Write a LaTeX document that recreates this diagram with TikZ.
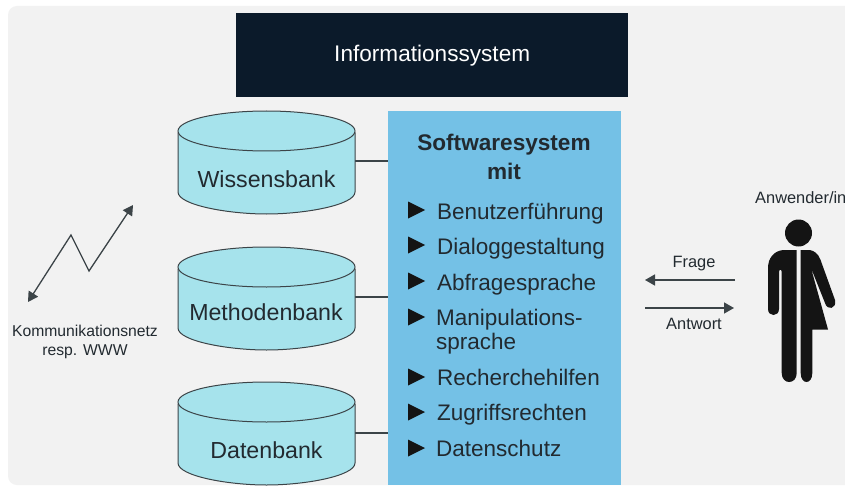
\documentclass[tikz,border=0pt]{standalone}
\usepackage{fontspec}
\setmainfont{Liberation Sans}
\usetikzlibrary{arrows.meta}
\definecolor{bgc}{HTML}{F2F2F2}
\definecolor{navy}{HTML}{0B1A2A}
\definecolor{cyl}{HTML}{A6E3EC}
\definecolor{soft}{HTML}{74C1E6}
\definecolor{ink}{HTML}{222A30}
\definecolor{wire}{HTML}{3C4448}
\definecolor{blk}{HTML}{141414}
\tikzset{
 cylbody/.style={draw=wire,line width=1pt,fill=cyl},
 cyltxt/.style={font=\fontsize{23.2}{26}\selectfont,text=ink,inner sep=0pt},
 link/.style={draw=wire,line width=1.2pt},
 lbl/.style={font=\fontsize{15.7}{19.5}\selectfont,text=ink,inner sep=0pt,align=center},
 lblb/.style={font=\fontsize{16.4}{19.5}\selectfont,text=ink,inner sep=0pt,align=center},
 item/.style={font=\fontsize{22.5}{26}\selectfont,text=ink,inner sep=0pt,anchor=base west,align=left},
 tri/.style={fill=blk,draw=none},
 flow/.style={draw=wire,line width=1.4pt,-{Triangle[length=10pt,width=11pt]}},
 flowb/.style={draw=wire,line width=1.3pt,{Triangle[length=10pt,width=11pt]}-{Triangle[length=10pt,width=11pt]}},
}
\newcommand{\cylinder}[1]{%
 \path[cylbody] (178,#1+22) -- (178,#1+81) .. controls (178,#1+94) and (228,#1+103) .. (266.5,#1+103) .. controls (305,#1+103) and (355,#1+94) .. (355,#1+81) -- (355,#1+22) -- cycle;
 \path[cylbody] (266.5,#1+20) ellipse[x radius=88.5,y radius=20];
}
\newcommand{\bul}[1]{\path[tri] (408,#1-8.5) -- (425,#1) -- (408,#1+8.5) -- cycle;}
\begin{document}
\begin{tikzpicture}[x=1pt,y=-1pt]
\useasboundingbox (0,0) rectangle (845,489);
\clip (0,0) rectangle (845,489);
\fill[white] (0,0) rectangle (845,489);
\fill[bgc,rounded corners=9pt] (8,6) rectangle (870,485);
\node[fill=navy,minimum width=392pt,minimum height=84pt,inner sep=0pt,font=\fontsize{22.6}{26}\selectfont,text=white,anchor=north west] (info) at (236,13) {\raisebox{1pt}{Informationssystem}};
\node[fill=soft,minimum width=233pt,minimum height=374pt,inner sep=0pt,anchor=north west] (soft) at (388,111) {};
\coordinate (w) at (355,161);
\coordinate (m) at (355,297);
\coordinate (d) at (355,433);
\draw[link] (w) -- (w-|soft.west);
\draw[link] (m) -- (m-|soft.west);
\draw[link] (d) -- (d-|soft.west);
\cylinder{111}
\cylinder{247}
\cylinder{382}
\node[cyltxt] (wb) at (266.5,179) {Wissensbank};
\node[cyltxt] (mb) at (266,312) {Methodenbank};
\node[cyltxt] (db) at (266.5,450) {Datenbank};
\node[font=\bfseries\fontsize{22.6}{29}\selectfont,text=ink,align=center,inner sep=0pt] (title) at (504,157) {Softwaresystem\\mit};
\bul{210}\bul{245}\bul{281}\bul{317}\bul{377}\bul{412}\bul{448}
\node[item] (i1) at (437,219) {Benutzerführung};
\node[item] (i2) at (437,254) {Dialoggestaltung};
\node[item] (i3) at (437,290) {Abfragesprache};
\node[item] (i4) at (436,325) {Manipulations-};
\node[item] (i4b) at (436,349) {sprache};
\node[item] (i5) at (437,385) {Recherchehilfen};
\node[item] (i6) at (437,420) {Zugriffsrechten};
\node[item] (i7) at (436,456) {Datenschutz};
% network
\coordinate (n1) at (28,302);
\coordinate (n2) at (71,235);
\coordinate (n3) at (89,271);
\coordinate (n4) at (133,205);
\draw[flowb] (n1) -- (n2) -- (n3) -- (n4);
\node[lbl] (net) at (85,342) {Kommunikationsnetz\\resp. WWW};
% flows
\coordinate (fa) at (735,280);
\coordinate (fb) at (645,280);
\coordinate (ga) at (645,308);
\coordinate (gb) at (734,308);
\draw[flow] (fa) -- (fb);
\draw[flow] (ga) -- (gb);
\node[lblb] (fr) at (694,264) {Frage};
\node[lblb] (an) at (694,324) {Antwort};
\node[lbl,font=\fontsize{16.4}{19.5}\selectfont,anchor=base west] (user) at (755,203) {Anwender/in};
% person
\fill[blk] (798.5,233) circle[radius=13.5];
\fill[blk] (796.7,250) -- (783,250) .. controls (774,251) and (768,258) .. (768,268)
 -- (768,309) .. controls (768,317) and (779,317) .. (779,309) -- (779,272) .. controls (779,269) and (781.7,269) .. (781.7,272) -- (781.7,373)
 .. controls (781.7,385) and (796.7,385) .. (796.7,373) -- cycle;
\fill[blk] (800.7,250) -- (810,250) .. controls (818,252) and (820,258) .. (822,264)
 -- (835,300) .. controls (837,309) and (827,311) .. (825,303) -- (811,268) -- (828,329.5) -- (812.3,329.5) -- (812.3,373)
 .. controls (812.3,385) and (800.7,385) .. (800.7,373) -- cycle;
\end{tikzpicture}
\end{document}
